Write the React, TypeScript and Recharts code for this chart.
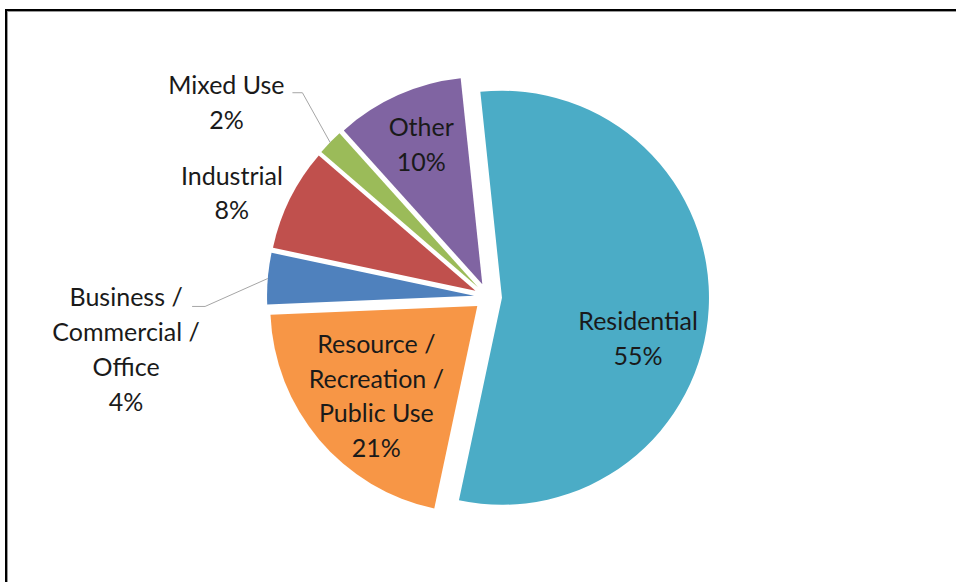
import React from "react";
import { PieChart, Pie, Cell } from "recharts";

const categories = [
    "Residential",
    "Resource / Recreation / Public Use",
    "Business / Commercial / Office",
    "Industrial",
    "Mixed Use",
    "Other",
];
const shares = [55, 21, 4, 8, 2, 10];
const colors = ["#4BACC6", "#F79646", "#4F81BD", "#C0504D", "#9BBB59", "#8064A2"];

const data = categories.map((name, i) => ({ name, value: shares[i] }));

// layout
const CX = 488;
const CY = 297;
const R = 207;
const EXPLODE = 14;
const START = 96;
const LINE_H = 34.7;
const RAD = Math.PI / 180;

// label placement per slice: [radius factor, angle nudge in degrees]
const labelPlace: [number, number][] = [
    [0.685, -13.3],
    [0.65, 1.2],
    [1.7, 13.4],
    [1.27, 4.3],
    [1.51, 8.0],
    [0.74, -0.5],
];
// leader lines (outside labels only): [elbow dx, text-end dx, dy] from label centre
const leaders: ([number, number, number] | null)[] = [
    null,
    null,
    [79, 66, -42],
    null,
    [76, 66, -9],
    null,
];

const total = shares.reduce((a, b) => a + b, 0);
const midAngles = shares.map((v, i) => {
    const before = shares.slice(0, i).reduce((a, b) => a + b, 0);
    return START - ((before + v / 2) / total) * 360;
});

function splitLines(name: string): string[] {
    return name.split(" / ").map((s, i, arr) => (i < arr.length - 1 ? s + " /" : s));
}

function renderLabel(props: any, idx: number) {
    if (props.index !== idx) return <g />;
    const { cx, cy, midAngle, outerRadius } = props;
    const [rf, nudge] = labelPlace[idx];
    const a = (midAngle + nudge) * RAD;
    const lx = cx + outerRadius * rf * Math.cos(a);
    const ly = cy - outerRadius * rf * Math.sin(a);
    const lines = [...splitLines(categories[idx]), `${shares[idx]}%`];
    const leader = leaders[idx];
    let path: React.ReactNode = null;
    if (leader) {
        const m = midAngle * RAD;
        const ox = cx + outerRadius * Math.cos(m);
        const oy = cy - outerRadius * Math.sin(m);
        const [ex, tx, dy] = leader;
        path = (
            <polyline
                points={`${ox},${oy} ${lx + ex},${ly + dy} ${lx + tx},${ly + dy}`}
                fill="none"
                stroke="#a6a6a6"
                strokeWidth={1}
            />
        );
    }
    return (
        <g>
            {path}
            {lines.map((t, i) => (
                <text
                    key={i}
                    x={lx}
                    y={ly + (i - (lines.length - 1) / 2) * LINE_H}
                    textAnchor="middle"
                    dominantBaseline="central"
                    fontFamily="Lato, sans-serif"
                    fontSize={25}
                    fill="#1a1a1a"
                >
                    {t}
                </text>
            ))}
        </g>
    );
}

export default function App() {
    return (
        <div
            style={{
                position: "absolute",
                left: 0,
                top: 0,
                width: 956,
                height: 582,
                overflow: "hidden",
                background: "#fff",
            }}
        >
            <div
                style={{
                    position: "absolute",
                    left: 5,
                    top: 9,
                    width: 1200,
                    height: 1200,
                    borderTop: "2px solid #000",
                    borderLeft: "2px solid #000",
                    boxShadow: "inset 1px 1px 0 #999",
                }}
            />
            <div style={{ position: "absolute", left: 0, top: 0 }}>
                <PieChart width={956} height={582} margin={{ top: 0, right: 0, bottom: 0, left: 0 }}>
                    {/* one pie per slice so each one can be pulled out along its own mid angle */}
                    {shares.map((_, k) => (
                        <Pie
                            key={k}
                            data={data}
                            dataKey="value"
                            nameKey="name"
                            cx={CX + EXPLODE * Math.cos(midAngles[k] * RAD)}
                            cy={CY - EXPLODE * Math.sin(midAngles[k] * RAD)}
                            outerRadius={R}
                            innerRadius={0}
                            startAngle={START}
                            endAngle={START - 360}
                            stroke="none"
                            labelLine={false}
                            label={(p: any) => renderLabel(p, k)}
                            isAnimationActive={false}
                        >
                            {data.map((_, i) => (
                                <Cell key={i} fill={i === k ? colors[i] : "transparent"} stroke="none" />
                            ))}
                        </Pie>
                    ))}
                </PieChart>
            </div>
        </div>
    );
}
